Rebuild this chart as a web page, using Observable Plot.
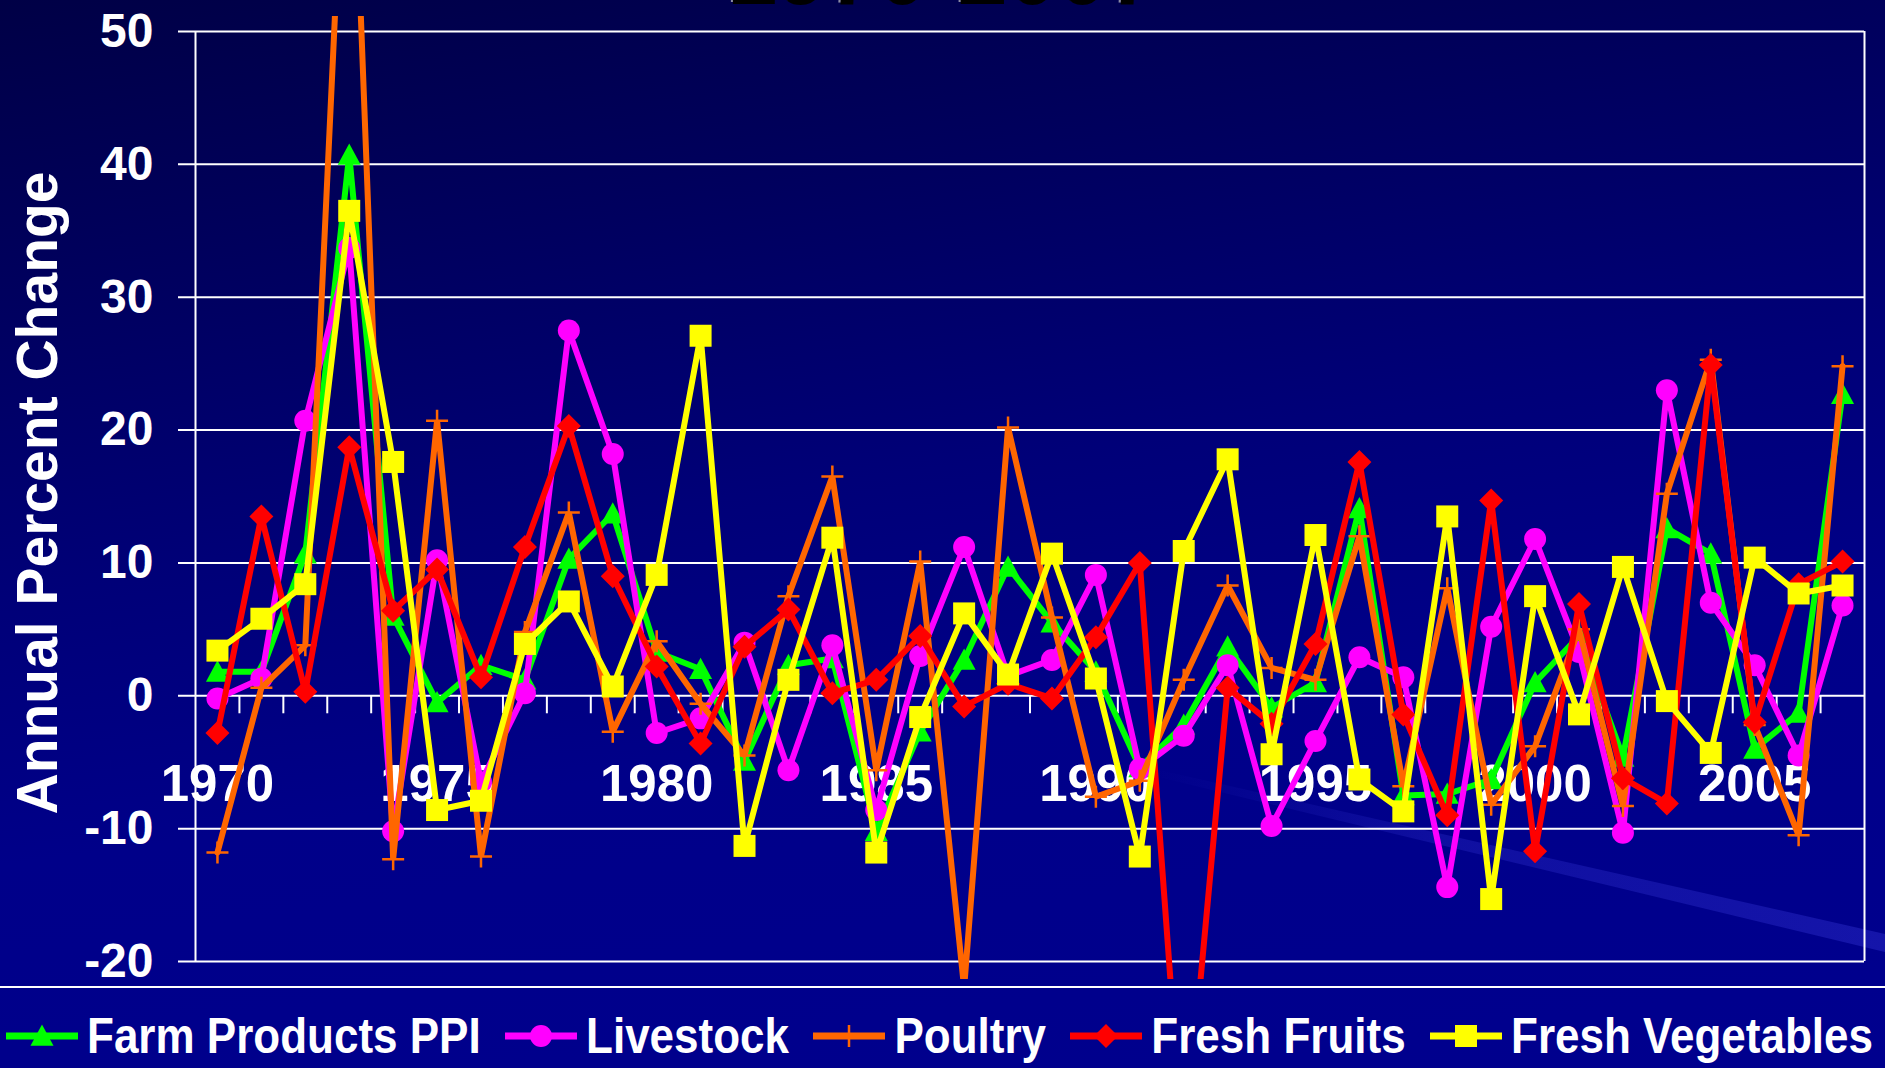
<!DOCTYPE html>
<html><head><meta charset="utf-8">
<script src="https://cdn.jsdelivr.net/npm/d3@7"></script>
<script src="https://cdn.jsdelivr.net/npm/@observablehq/plot@0.6"></script>
<style>
html,body{margin:0;padding:0;}
body{width:1885px;height:1068px;overflow:hidden;position:relative;font-family:"Liberation Sans",Arial,sans-serif;
background:linear-gradient(172deg,#000046 0%,#00005e 22%,#000078 45%,#000089 65%,#00008e 100%);}
#deco{position:absolute;left:0;top:0;}
#title{position:absolute;left:0;top:-72px;width:1885px;text-align:center;font-size:90px;font-weight:bold;line-height:90px;color:#000;text-shadow:-2px -2px 0 rgba(200,200,200,0.7);}
#chart{position:absolute;left:0;top:0;}
#sep{position:absolute;left:0;top:986px;width:1885px;height:2px;background:#fff;}
#legend{position:absolute;left:6px;top:1004px;width:1867px;height:64px;display:flex;justify-content:space-between;align-items:center;}
.item{display:flex;align-items:center;}
.item span{color:#fff;font-size:44px;font-weight:bold;display:inline-block;transform:scaleY(1.15);margin-left:9px;line-height:1;white-space:nowrap;}
</style>
</head>
<body>
<svg id="deco" width="1885" height="1068">
  <defs>
    <linearGradient id="sg" x1="0" x2="1" y1="0" y2="0">
      <stop offset="0" stop-color="#3c3ce0" stop-opacity="0"/>
      <stop offset="0.4" stop-color="#3c3ce0" stop-opacity="0.25"/>
      <stop offset="1" stop-color="#3c3ce0" stop-opacity="0.35"/>
    </linearGradient>
  </defs>
  <polygon points="1150,768 1885,934 1885,952 1150,775" fill="url(#sg)"/>
</svg>
<div id="title">1970-2007</div>
<div id="chart"></div>
<div id="sep"></div>
<div id="legend"></div>
<script>
const years = d3.range(1970, 2008);
const yTicks = [-20, -10, 0, 10, 20, 30, 40, 50];
const xLabelYears = [1970, 1975, 1980, 1985, 1990, 1995, 2000, 2005];

const farmPPI = [1.8, 1.8, 10.7, 40.7, 6.0, -0.5, 2.3, 1.2, 10.3, 13.7,
  3.3, 2.0, -4.9, 2.3, 2.8, -10.2, -2.7, 2.7, 9.7, 5.5,
  1.8, -5.4, -2.2, 3.7, -0.9, 1.0, 14.1, -7.5, -7.4, -6.3,
  1.0, 4.5, -4.6, 12.6, 10.7, -4.0, -1.3, 22.7];
const livestock = [-0.2, 1.3, 20.7, 33.7, -10.2, 10.2, -6.5, 0.2, 27.5, 18.2,
  -2.8, -1.7, 4.0, -5.6, 3.8, -8.6, 3.0, 11.2, 1.5, 2.7,
  9.1, -5.5, -3.0, 2.3, -9.8, -3.4, 2.9, 1.4, -14.4, 5.2,
  11.8, 3.3, -10.3, 23.0, 7.0, 2.3, -4.5, 6.8];
const poultry = [-11.8, 0.6, 3.8, 74, -12.3, 20.7, -12.1, 4.8, 13.8, -2.7,
  4.1, -0.6, -4.5, 7.5, 16.5, -5.6, 10.1, -22, 20.2, 5.9,
  -7.6, -6.4, 1.2, 8.3, 2.1, 1.2, 12.0, -6.8, 8.1, -8.2,
  -3.8, 5.0, -8.3, 15.2, 25.3, -2.2, -10.5, 24.8];
const freshFruits = [-2.8, 13.5, 0.3, 18.7, 6.4, 9.5, 1.4, 11.2, 20.3, 9.0,
  2.2, -3.6, 3.7, 6.5, 0.2, 1.2, 4.5, -0.8, 0.9, -0.2,
  4.4, 10.0, -35, 0.6, -2.1, 3.9, 17.6, -1.4, -9.0, 14.7,
  -11.7, 6.9, -6.2, -8.1, 24.9, -2.0, 8.4, 10.1];
const freshVegetables = [3.4, 5.8, 8.4, 36.5, 17.6, -8.6, -7.9, 3.9, 7.1, 0.7,
  9.1, 27.1, -11.3, 1.2, 11.9, -11.8, -1.6, 6.2, 1.6, 10.7,
  1.3, -12.1, 10.9, 17.8, -4.4, 12.1, -6.3, -8.7, 13.5, -15.3,
  7.5, -1.4, 9.7, -0.4, -4.3, 10.4, 7.7, 8.3];

const seriesNames = ["Farm Products PPI", "Livestock", "Poultry", "Fresh Fruits", "Fresh Vegetables"];
const seriesValues = [farmPPI, livestock, poultry, freshFruits, freshVegetables];
const seriesColors = ["#00ff00", "#ff00ff", "#ff6600", "#ff0000", "#ffff00"];
const seriesSymbols = ["triangle", "circle", "plus", "diamond", "square"];
const seriesR = [11.5, 11, 11, 12, 11];

// box-shaped marker symbols (Excel style): r = half of the box side
const half = size => Math.sqrt(size / Math.PI);
const symbolTypes = {
  triangle: {draw(c, size) { const r = half(size); c.moveTo(0, -r); c.lineTo(r, r * 0.85); c.lineTo(-r, r * 0.85); c.closePath(); }},
  circle: {draw(c, size) { const r = half(size); c.moveTo(r, 0); c.arc(0, 0, r, 0, 2 * Math.PI); }},
  plus: {draw(c, size) { const r = half(size); c.moveTo(-r, 0); c.lineTo(r, 0); c.moveTo(0, -r); c.lineTo(0, r); }},
  diamond: {draw(c, size) { const r = half(size); c.moveTo(0, -r); c.lineTo(r, 0); c.lineTo(0, r); c.lineTo(-r, 0); c.closePath(); }},
  square: {draw(c, size) { const r = half(size); c.rect(-r, -r, 2 * r, 2 * r); }}
};

const series = seriesNames.map((name, k) => ({
  name, color: seriesColors[k], symbol: seriesSymbols[k], r: seriesR[k],
  rows: seriesValues[k].map((v, i) => ({year: years[i], value: v}))
}));

// pixel layout of the frame
const W = 1885, H = 987;
const mTop = 16, mBottom = 8, mLeft = 195, mRight = 21;
const y50px = 31, yNeg20px = 961;
const pxPerUnit = (yNeg20px - y50px) / 70;
const yHi = 50 + (y50px - mTop) / pxPerUnit;
const yLo = -20 - ((H - mBottom) - yNeg20px) / pxPerUnit;

const boundaries = years.slice(1).map(y => y - 0.5);
const font = "'Liberation Sans', Arial, sans-serif";

const marks = [
  Plot.ruleY(yTicks, {stroke: "white", strokeWidth: 2, insetLeft: -17}),
  Plot.ruleX([years[0] - 0.5, years[years.length - 1] + 0.5], {y1: -20, y2: 50, stroke: "white", strokeWidth: 2}),
  Plot.ruleX(boundaries, {y1: () => 0, y2: () => 0, insetBottom: -18, stroke: "white", strokeWidth: 2}),
  Plot.text(yTicks, {y: d => d, text: d => String(d), frameAnchor: "left", dx: -42, textAnchor: "end",
    fill: "white", fontSize: 48, fontWeight: "bold"}),
  Plot.text(["Annual Percent Change"], {frameAnchor: "left", textAnchor: "middle", dx: -157, dy: -5, rotate: -90,
    fill: "white", fontSize: 57, fontWeight: "bold"}),
  Plot.text(xLabelYears, {x: d => d, y: () => 0, dy: 89, text: d => String(d),
    fill: "white", fontSize: 51, fontWeight: "bold"})
];
for (const s of series) {
  marks.push(Plot.line(s.rows, {x: "year", y: "value", stroke: s.color, strokeWidth: 6, strokeLinejoin: "miter", clip: true}));
  if (s.symbol === "plus") {
    marks.push(Plot.dot(s.rows, {x: "year", y: "value", symbol: symbolTypes.plus, r: s.r, fill: "none", stroke: s.color, strokeWidth: 2.5, clip: true}));
  } else {
    marks.push(Plot.dot(s.rows, {x: "year", y: "value", symbol: symbolTypes[s.symbol], r: s.r, fill: s.color, stroke: "none", clip: true}));
  }
}

const chart = Plot.plot({
  width: W, height: H,
  marginTop: mTop, marginBottom: mBottom, marginLeft: mLeft, marginRight: mRight,
  x: {domain: [years[0] - 0.5, years[years.length - 1] + 0.5], axis: null},
  y: {domain: [yLo, yHi], axis: null},
  style: {background: "transparent", color: "white", fontFamily: font, overflow: "visible"},
  marks
});
document.getElementById("chart").appendChild(chart);

// legend
const legend = d3.select("#legend");
for (const s of series) {
  const item = legend.append("div").attr("class", "item");
  const svg = item.append("svg").attr("width", 72).attr("height", 40);
  svg.append("line").attr("x1", 0).attr("x2", 72).attr("y1", 20).attr("y2", 20)
    .attr("stroke", s.color).attr("stroke-width", 7);
  const path = d3.symbol(symbolTypes[s.symbol], s.r * s.r * Math.PI)();
  const p = svg.append("path").attr("d", path).attr("transform", "translate(36,20)");
  if (s.symbol === "plus") p.attr("fill", "none").attr("stroke", s.color).attr("stroke-width", 2.5);
  else p.attr("fill", s.color);
  item.append("span").text(s.name);
}
</script>
</body></html>
